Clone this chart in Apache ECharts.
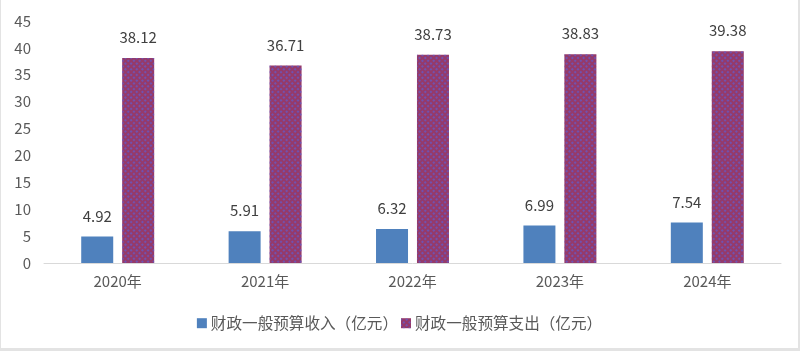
<!DOCTYPE html>
<html><head><meta charset="utf-8">
<script src="https://cdn.jsdelivr.net/npm/echarts@6/dist/echarts.min.js"></script>
<style>
html,body{margin:0;padding:0;background:#fff;}
#wrap{width:800px;height:351px;box-sizing:border-box;border-left:1px solid #e3e3e3;border-right:2px solid #e3e3e3;border-bottom:3px solid #e3e3e3;}
#c{width:797px;height:348px;}
</style></head>
<body><div id="wrap"><div id="c"></div></div>
<script>
var categories = ['2020年','2021年','2022年','2023年','2024年'];
var revenue = [4.92, 5.91, 6.32, 6.99, 7.54];
var expenditure = [38.12, 36.71, 38.73, 38.83, 39.38];
var seriesNames = ['财政一般预算收入（亿元）','财政一般预算支出（亿元）'];
var yTicks = {min:0, max:45, interval:5};

var font = '"Microsoft YaHei","Noto Sans CJK SC",sans-serif';
var chart = echarts.init(document.getElementById('c'));
chart.setOption({
  animation:false,
  textStyle:{fontFamily:font},
  grid:{left:43, right:17, top:21, bottom:85},
  legend:{
    bottom:12, left:'center', itemWidth:10, itemHeight:10, itemGap:3,
    icon:'rect',
    textStyle:{fontSize:15.6, color:'#595959', fontFamily:font, padding:[0,0,0,-1]},
    data:seriesNames
  },
  xAxis:{
    type:'category', data:categories,
    axisLine:{lineStyle:{color:'#d9d9d9', width:1}},
    axisTick:{show:false},
    axisLabel:{fontSize:15, color:'#595959', margin:11}
  },
  yAxis:{
    type:'value', min:yTicks.min, max:yTicks.max, interval:yTicks.interval,
    splitLine:{show:false},
    axisLine:{show:false}, axisTick:{show:false},
    axisLabel:{fontSize:15, color:'#595959', margin:13}
  },
  series:[
    {name:seriesNames[0], type:'bar', data:revenue, barWidth:32, barGap:'28%',
     itemStyle:{color:'#4f81bd'},
     label:{show:true, position:'top', distance:13, fontSize:15, color:'#404040'}},
    {name:seriesNames[1], type:'bar', data:expenditure, barWidth:32,
     itemStyle:{color:'#953a6a',
       decal:{symbol:'rect', color:'rgba(100,90,200,0.75)', dashArrayX:[2,2], dashArrayY:[2,2], rotation:Math.PI/4, symbolSize:1}},
     label:{show:true, position:'top', distance:13, fontSize:15, color:'#404040'}}
  ]
});
</script></body></html>
